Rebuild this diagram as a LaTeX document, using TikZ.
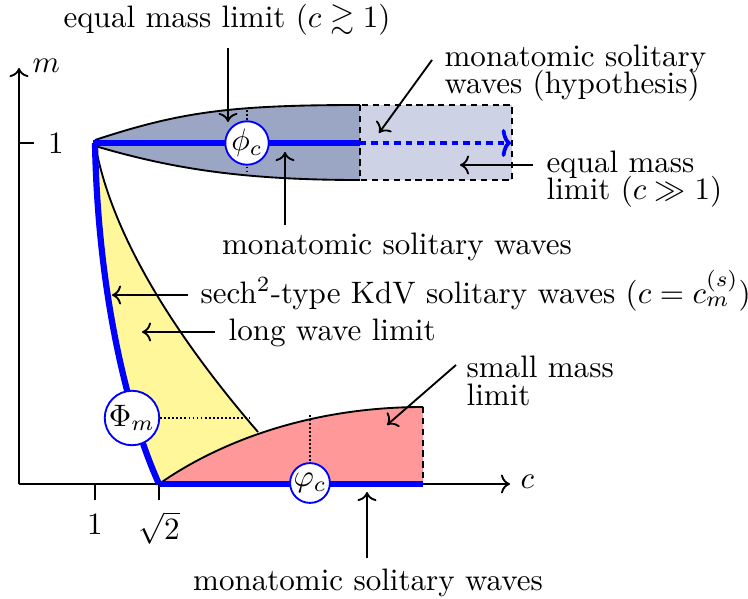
\documentclass[tikz,border=0pt]{standalone}
\usepackage{amssymb}
\usetikzlibrary{arrows.meta}
\definecolor{darkreg}{RGB}{155,166,196}
\definecolor{lightreg}{RGB}{205,210,228}
\definecolor{yellowreg}{RGB}{255,247,153}
\definecolor{redreg}{RGB}{255,153,153}
\newcommand{\tightlines}{\fontsize{10pt}{8.8pt}\selectfont\setlength{\lineskiplimit}{-10pt}}
\begin{document}
\begin{tikzpicture}[x=0.322pt,y=-0.322pt,
  blk/.style={semithick},
  dsh/.style={semithick,dash pattern=on 2pt off 1.5pt},
  dts/.style={semithick,dash pattern=on 0.6pt off 0.7pt},
  bluethick/.style={blue,line width=2pt},
  bluedash/.style={blue,line width=1.2pt,dash pattern=on 2pt off 1.7pt,-{To[length=3pt,width=9pt]}},
  circ/.style={circle,draw=blue,semithick,fill=white,inner sep=0.2pt},
  lbl/.style={inner sep=0pt,font={\tightlines}},
  ann/.style={semithick,->}]
\useasboundingbox (0,0) rectangle (748,598);
% regions
\fill[darkreg] (95,140) .. controls (180,112) and (230,105) .. (360,105) -- (360,180)
  .. controls (240,180) and (170,168) .. (95,146) -- cycle;
\fill[lightreg] (360,105) rectangle (512,180);
\fill[yellowreg] (95,143) .. controls (98,300) and (130,420) .. (159,484) -- (258,432)
  .. controls (170,330) and (110,230) .. (95,143) -- cycle;
\fill[redreg] (159,484) .. controls (210,448) and (300,407) .. (423,407) -- (423,484) -- cycle;
% boundaries
\draw[blk] (95,140) .. controls (180,112) and (230,105) .. (360,105);
\draw[blk] (95,146) .. controls (170,168) and (240,180) .. (360,180);
\draw[dsh] (360,105) rectangle (512,180);
\draw[blk] (95,143) .. controls (110,230) and (170,330) .. (258,432);
\draw[blk] (159,484) .. controls (210,448) and (300,407) .. (423,407);
\draw[dsh] (423,407) -- (423,484);
% axes
\coordinate (O) at (19,484);
\coordinate (cend) at (510,484);
\coordinate (mend) at (19,68);
\draw[blk,->] (O) -- (cend);
\draw[blk,->] (O) -- (mend);
\node[lbl,anchor=west] (clab) at (520,482) {$c$};
\node[lbl,anchor=west] (mlab) at (32,66) {$m$};
\draw[blk] (19,143) -- (34,143);
\node[lbl] (m1) at (56,143) {1};
\draw[blk] (95,484) -- (95,500);
\draw[blk] (159,484) -- (159,500);
\node[lbl,anchor=north] (c1) at (95,513) {1};
\node[lbl,anchor=north] (csq) at (159,511) {$\sqrt{2}$};
% dotted guides
\draw[dts] (247,110) -- (247,176);
\draw[dts] (310,415) -- (310,483);
\draw[dts] (132,418) -- (250,418);
% blue families
\draw[bluethick] (95,143) .. controls (98,300) and (130,420) .. (159,484);
\draw[bluethick] (93,143) -- (360,143);
\draw[bluethick] (159,484) -- (423,484);
\draw[bluedash] (360,143) -- (511,143);
% solution nodes
\node[circ] (phic) at (247,143) {$\phi_c$};
\node[circ] (Phim) at (132,418) {$\Phi_m$};
\node[circ] (varphic) at (310,483) {$\varphi_c$};
% labels
\node[lbl] (eqm) at (227,20) {equal mass limit ($c\gtrsim 1$)};
\node[lbl,anchor=west,align=left] (hyp) at (444,73) {monatomic solitary\\waves (hypothesis)};
\node[lbl,anchor=west,align=left] (eqm2) at (546,179) {equal mass\\limit ($c\gg 1$)};
\node[lbl] (mono1) at (397,247) {monatomic solitary waves};
\node[lbl,anchor=base west] (kdv) at (200,303) {sech$^2$-type KdV solitary waves ($c=c_m^{(s)}$)};
\node[lbl,anchor=base west] (lw) at (228,340) {long wave limit};
\node[lbl,anchor=west,align=left] (sm) at (466,381) {small mass\\limit};
\node[lbl] (mono2) at (368,583) {monatomic solitary waves};
% annotation arrows
\coordinate (a1s) at (228,48);  \coordinate (a1e) at (228,122);
\coordinate (a2s) at (432,60);  \coordinate (a2e) at (379,133);
\coordinate (a3s) at (533,165); \coordinate (a3e) at (460,165);
\coordinate (a4s) at (285,225); \coordinate (a4e) at (285,152);
\coordinate (a5s) at (188,295); \coordinate (a5e) at (112,295);
\coordinate (a6s) at (215,332); \coordinate (a6e) at (142,332);
\coordinate (a7s) at (456,365); \coordinate (a7e) at (387,425);
\coordinate (a8s) at (367,558); \coordinate (a8e) at (367,492);
\draw[ann] (a1s) -- (a1e);
\draw[ann] (a2s) -- (a2e);
\draw[ann] (a3s) -- (a3e);
\draw[ann] (a4s) -- (a4e);
\draw[ann] (a5s) -- (a5e);
\draw[ann] (a6s) -- (a6e);
\draw[ann] (a7s) -- (a7e);
\draw[ann] (a8s) -- (a8e);
\end{tikzpicture}
\end{document}
